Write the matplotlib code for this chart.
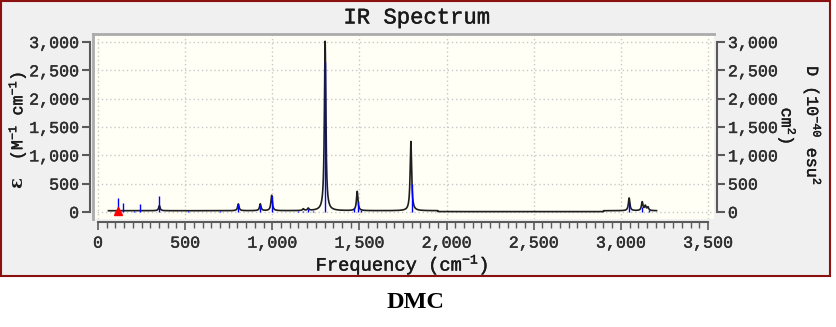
import numpy as np
import matplotlib
matplotlib.use("Agg")
import matplotlib.pyplot as plt
import matplotlib.patheffects as pe
from matplotlib.patches import Rectangle
from matplotlib.ticker import FuncFormatter, MultipleLocator

plt.rcParams['font.family'] = ['Liberation Mono', 'DejaVu Sans']
plt.rcParams['mathtext.fontset'] = 'custom'
plt.rcParams['mathtext.rm'] = 'Liberation Mono'
plt.rcParams['mathtext.default'] = 'regular'

# computed IR modes: frequency (cm-1) and dipole strength (blue sticks, right axis)
stick_freq = [116, 141, 208, 239, 352, 514, 700, 805, 931, 996, 1145, 1178, 1206,
              1234, 1303, 1468, 1493, 1506, 1800, 3047, 3122, 3160]
stick_d = [242, 159, 20, 141, 288, 10, 10, 141, 124, 288, 15, 20, 45,
           20, 2650, 70, 180, 40, 500, 150, 80, 40]

# broadened spectrum peaks: centre (cm-1) and epsilon height (left axis)
peak_freq = [352, 805, 931, 996, 1178, 1206, 1303, 1487, 1795, 3047, 3122, 3140, 3155]
peak_eps = [90, 120, 120, 270, 30, 40, 2990, 340, 1222, 224, 153, 83, 60]
hwhm = 5.0

# flat background under the curve
base_edges = [60, 1950, 2900, 3205]
base_levels = [22, 6, 22]

selected_mode = 116

x = np.arange(base_edges[0], base_edges[-1], 0.5)
eps = np.zeros_like(x)
for f, h in zip(peak_freq, peak_eps):
    eps += h * hwhm**2 / ((x - f)**2 + hwhm**2)
for lo, hi, lev in zip(base_edges[:-1], base_edges[1:], base_levels):
    eps[(x >= lo) & (x < hi)] += lev

W, H = 836, 327
fig = plt.figure(figsize=(W / 100, H / 100), dpi=100, facecolor='white')

# framed grey panel behind everything
fig.patches.append(Rectangle((1 / W, 1 - 276 / H), 829 / W, 275 / H, transform=fig.transFigure,
                             facecolor='#f0f0f0', edgecolor='#8b1010', lw=1.5, zorder=-10))

ax = fig.add_axes([93 / W, 1 - 219 / H, (714 - 93) / W, (219 - 34) / H])
ax.set_facecolor('#fffff6')

ax.plot(x, eps, color='#1e1e1e', lw=1.2, zorder=3)
ax.vlines(stick_freq, 0, stick_d, color='#0000ff', lw=1.0, zorder=4)
ax.plot([selected_mode], [10], marker='^', color='#ff0000', ms=6, mec='#ff0000', zorder=5, clip_on=False)

ax.set_xlim(-28.7, 3534)
ax.set_ylim(-124, 3141)

ax.xaxis.set_major_locator(MultipleLocator(500))
ax.xaxis.set_minor_locator(MultipleLocator(50))
ax.yaxis.set_major_locator(MultipleLocator(500))
fmt = FuncFormatter(lambda v, p: f"{int(round(v)):,}")
ax.xaxis.set_major_formatter(fmt)
ax.yaxis.set_major_formatter(fmt)

ax.grid(True, which='major', color='#c8c8c8', ls=(0, (1, 2)), lw=1.0, zorder=1)

for side in ['left', 'right', 'bottom']:
    ax.spines[side].set_position(('outward', 2))
    ax.spines[side].set_color('#5a5a5a')
    ax.spines[side].set_linewidth(1.5)
ax.spines['left'].set_bounds(0, 3000)
ax.spines['right'].set_bounds(0, 3000)
ax.spines['bottom'].set_bounds(0, 3500)
ax.spines['top'].set_color('#ababab')
ax.spines['top'].set_linewidth(2)
ax.plot([0, 0], [0, 1], transform=ax.transAxes, color='#ababab', lw=2, clip_on=False, zorder=6)

ax.tick_params(axis='y', which='major', direction='out', length=6, width=1.5, color='#5a5a5a',
               left=True, right=True, labelleft=True, labelright=True, labelsize=12,
               labelcolor='#2e2e2e', pad=2)
ax.tick_params(axis='x', which='major', direction='out', length=6, width=1.2, color='#5a5a5a',
               labelsize=12, labelcolor='#2e2e2e', pad=4)
ax.tick_params(axis='x', which='minor', direction='out', length=4, width=1.0, color='#5a5a5a')

# slightly heavier strokes for the thin mono glyphs
thick = [pe.withStroke(linewidth=0.3, foreground='#2e2e2e')]
for lab in ax.get_xticklabels() + ax.get_yticklabels():
    lab.set_path_effects(thick)
for t in ax.yaxis.get_major_ticks():
    t.label2.set_path_effects(thick)

txt = dict(color='#1a1a1a', path_effects=[pe.withStroke(linewidth=0.3, foreground='#1a1a1a')])
fig.text(417 / W, 1 - 18 / H, 'IR Spectrum', ha='center', va='center', fontsize=16, **txt)
fig.text(402 / W, 1 - 265 / H, 'Frequency (cm$^{-1}$)', ha='center', va='center', fontsize=13.5, **txt)
fig.text(17 / W, 1 - 183 / H, 'ε', ha='center', va='center', rotation=90, fontsize=13,
         fontweight='bold', family='DejaVu Serif', color='#1a1a1a')
fig.text(17 / W, 1 - 116 / H, '(M$^{-1}$ cm$^{-1}$)', ha='center', va='center',
         rotation=90, fontsize=12, **txt)
fig.text(800 / W, 1 - 126 / H, 'D (10$^{-40}$ esu$^{2}$\ncm$^{2}$)', ha='center', va='center',
         rotation=270, fontsize=12, multialignment='center', linespacing=1.1, **txt)
fig.text(416 / W, 1 - 302 / H, 'DMC', ha='center', va='center', fontsize=17.5, fontweight='bold',
         family='Liberation Serif', color='black')

fig.savefig('out.png', dpi=100, facecolor='white')
